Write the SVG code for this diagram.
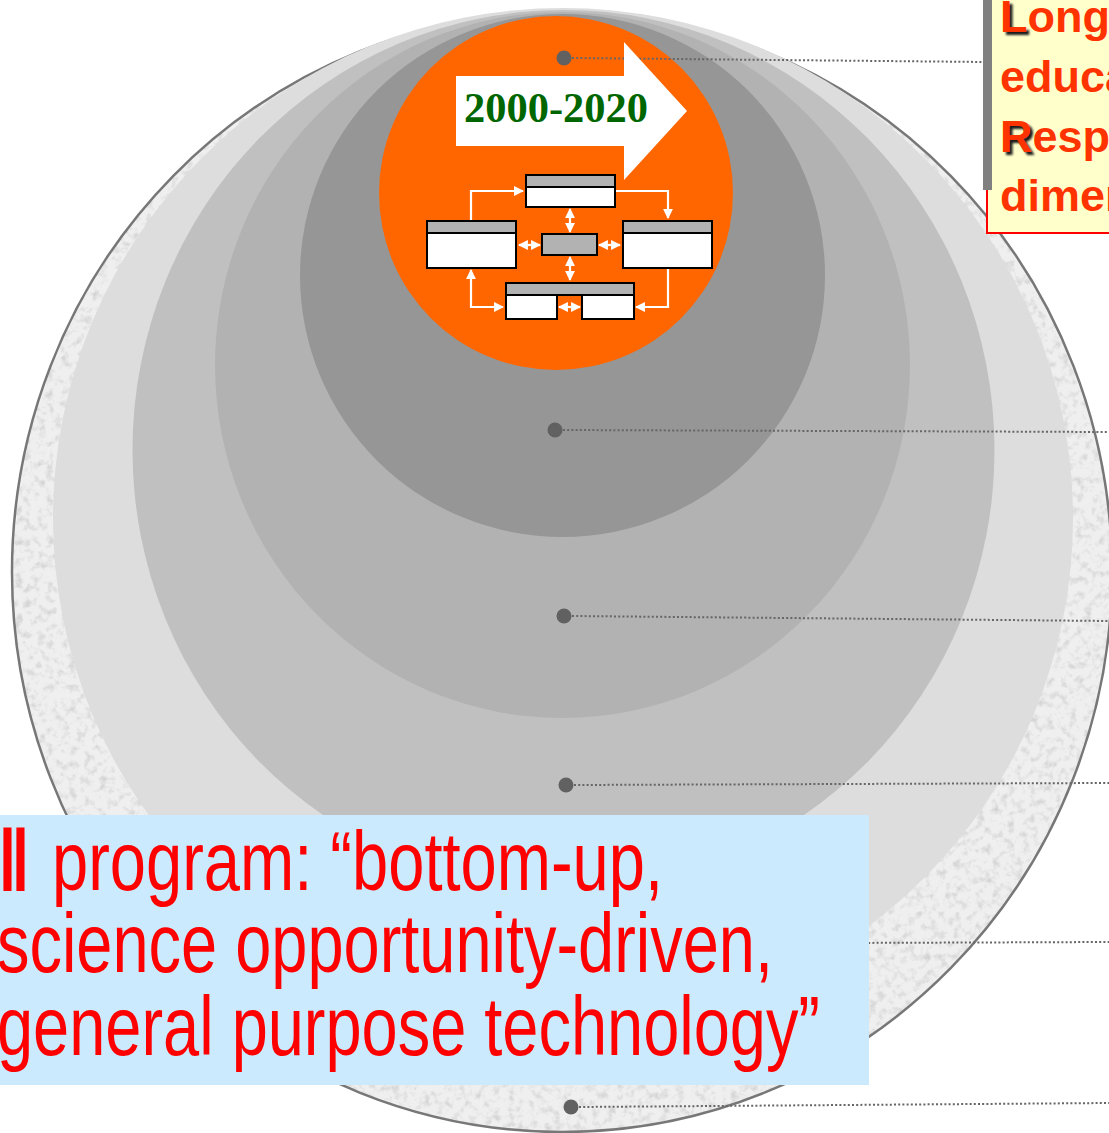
<svg xmlns="http://www.w3.org/2000/svg" width="1109" height="1133" viewBox="0 0 1109 1133">
<style>
.lead{fill:none;stroke:#666;stroke-width:2;stroke-dasharray:2 2.2}
.dot{fill:#616161}
.fl{fill:none;stroke:#fff;stroke-width:2.2}
.bx{stroke:#000;stroke-width:2}
.hd{fill:#b2b2b2}
.wb{fill:#fff}
.yt{font-family:"Liberation Sans",Arial,sans-serif;font-weight:bold;font-size:45px;fill:#ff3300}
.ys{font-family:"Liberation Sans",Arial,sans-serif;font-weight:bold;font-size:45px;fill:#1a1a1a}
.bt{font-family:"Liberation Sans Narrow","Liberation Sans",Arial,sans-serif;font-size:84px;fill:#ff0000}
.bb{font-family:"Liberation Sans",Arial,sans-serif;font-weight:bold;font-size:84px;fill:#ff0000;stroke:#ff0000;stroke-width:3}
</style>
<defs>
<filter id="tex" x="0" y="0" width="1" height="1" color-interpolation-filters="sRGB">
<feTurbulence type="fractalNoise" baseFrequency="0.13" numOctaves="4" seed="4" result="n"/>
<feColorMatrix in="n" type="matrix" values="0 0 0 0 0.72 0 0 0 0 0.72 0 0 0 0 0.72 1.3 0 0 0 -0.62" result="sp"/>
<feComposite in="sp" in2="SourceGraphic" operator="atop"/>
</filter>
<filter id="sh" x="-0.2" y="-0.2" width="1.4" height="1.4">
<feGaussianBlur stdDeviation="1"/>
</filter>
<marker id="ah" viewBox="0 0 10 10" refX="9" refY="5" markerWidth="4.5" markerHeight="4.5" orient="auto-start-reverse" markerUnits="strokeWidth">
<path d="M0,0 L10,5 L0,10 z" fill="#fff"/>
</marker>
</defs>

<g id="layer-outer">
<ellipse cx="562" cy="572" rx="550" ry="560" fill="#efefef" filter="url(#tex)"/>
<ellipse cx="562" cy="572" rx="550" ry="560" fill="none" stroke="#777" stroke-width="2.5"/>
</g>
<g id="layer-2"><ellipse cx="563" cy="518" rx="510" ry="510" fill="#dddddd"/></g>
<g id="layer-3"><ellipse cx="563.5" cy="450" rx="431" ry="440" fill="#c0c0c0"/></g>
<g id="layer-4"><ellipse cx="562.5" cy="365" rx="347.5" ry="353" fill="#b2b2b2"/></g>
<g id="layer-5"><ellipse cx="562.5" cy="275.5" rx="262.5" ry="261.5" fill="#969696"/></g>
<g id="core"><circle cx="556" cy="193" r="177" fill="#ff6600"/></g>

<g id="connectors">
<path class="lead" d="M572,58 L985,62"/>
<path class="lead" d="M563,430 L1109,432"/>
<path class="lead" d="M572,616 L1109,621"/>
<path class="lead" d="M574,785 L1109,783"/>
<path class="lead" d="M570,944 L1109,942"/>
<path class="lead" d="M579,1107 L1109,1103"/>
<circle class="dot" cx="564" cy="58" r="7.5"/>
<circle class="dot" cx="555" cy="430" r="7.5"/>
<circle class="dot" cx="564" cy="616" r="7.5"/>
<circle class="dot" cx="566" cy="785" r="7.5"/>
<circle class="dot" cx="565" cy="944" r="7.5"/>
<circle class="dot" cx="571" cy="1107" r="7.5"/>
</g>

<g id="timeline-arrow">
<path d="M456,76 L624,76 L624,42 L687,111 L624,180 L624,146 L456,146 z" fill="#fff"/>
<text x="464" y="122" textLength="184" lengthAdjust="spacingAndGlyphs" style="font-family:'Liberation Serif','Times New Roman',serif;font-weight:bold;font-size:42px;fill:#006600">2000-2020</text>
</g>

<g id="flow">
<g id="flow-links">
<path class="fl" d="M471,220 L471,191 L523,191" marker-end="url(#ah)"/>
<path class="fl" d="M615,191 L668,191 L668,218" marker-end="url(#ah)"/>
<path class="fl" d="M668,268 L668,307 L636,307" marker-end="url(#ah)"/>
<path class="fl" d="M503,307 L471,307 L471,270" marker-start="url(#ah)" marker-end="url(#ah)"/>
<path class="fl" d="M570,209 L570,232" marker-start="url(#ah)" marker-end="url(#ah)"/>
<path class="fl" d="M570,257 L570,280" marker-start="url(#ah)" marker-end="url(#ah)"/>
<path class="fl" d="M519,245 L540,245" marker-start="url(#ah)" marker-end="url(#ah)"/>
<path class="fl" d="M599,245 L620,245" marker-start="url(#ah)" marker-end="url(#ah)"/>
<path class="fl" d="M559,307 L580,307" marker-start="url(#ah)" marker-end="url(#ah)"/>
</g>
<g id="box-top">
<rect class="bx wb" x="526" y="175" width="89" height="32"/>
<rect class="bx hd" x="526" y="175" width="89" height="12"/>
</g>
<g id="box-left">
<rect class="bx wb" x="427" y="221" width="89" height="47"/>
<rect class="bx hd" x="427" y="221" width="89" height="12"/>
</g>
<g id="box-right">
<rect class="bx wb" x="623" y="221" width="89" height="47"/>
<rect class="bx hd" x="623" y="221" width="89" height="12"/>
</g>
<g id="box-center">
<rect class="bx hd" x="542" y="234" width="55" height="21"/>
</g>
<g id="box-bottom">
<rect class="bx hd" x="506" y="283" width="128" height="12"/>
<rect class="bx wb" x="506" y="295" width="51" height="24"/>
<rect class="bx wb" x="582" y="295" width="52" height="24"/>
</g>
</g>

<g id="note-box">
<rect x="987" y="-5" width="130" height="238" fill="#ffffcc" stroke="#ff0000" stroke-width="2"/>
<rect x="983" y="0" width="9" height="190" fill="#808080"/>
<text class="ys" x="1003" y="35" filter="url(#sh)">L</text>
<text class="yt" x="1000" y="32">Long-</text>
<text class="yt" x="1000" y="92">educa</text>
<text class="ys" x="1003" y="155" filter="url(#sh)">R</text>
<text class="yt" x="1000" y="152">Respo</text>
<text class="yt" x="1000" y="211">dimen</text>
</g>

<g id="program-box">
<rect x="0" y="815" width="869" height="270" fill="#cbeafd"/>
<text class="bb" x="1" y="890" textLength="26" lengthAdjust="spacingAndGlyphs">ll</text>
<text class="bt" x="52" y="890" textLength="611" lengthAdjust="spacingAndGlyphs">program: “bottom-up,</text>
<text class="bt" x="-3" y="972" textLength="776" lengthAdjust="spacingAndGlyphs">science opportunity-driven,</text>
<text class="bt" x="-3" y="1055" textLength="823" lengthAdjust="spacingAndGlyphs">general purpose technology”</text>
</g>
</svg>
